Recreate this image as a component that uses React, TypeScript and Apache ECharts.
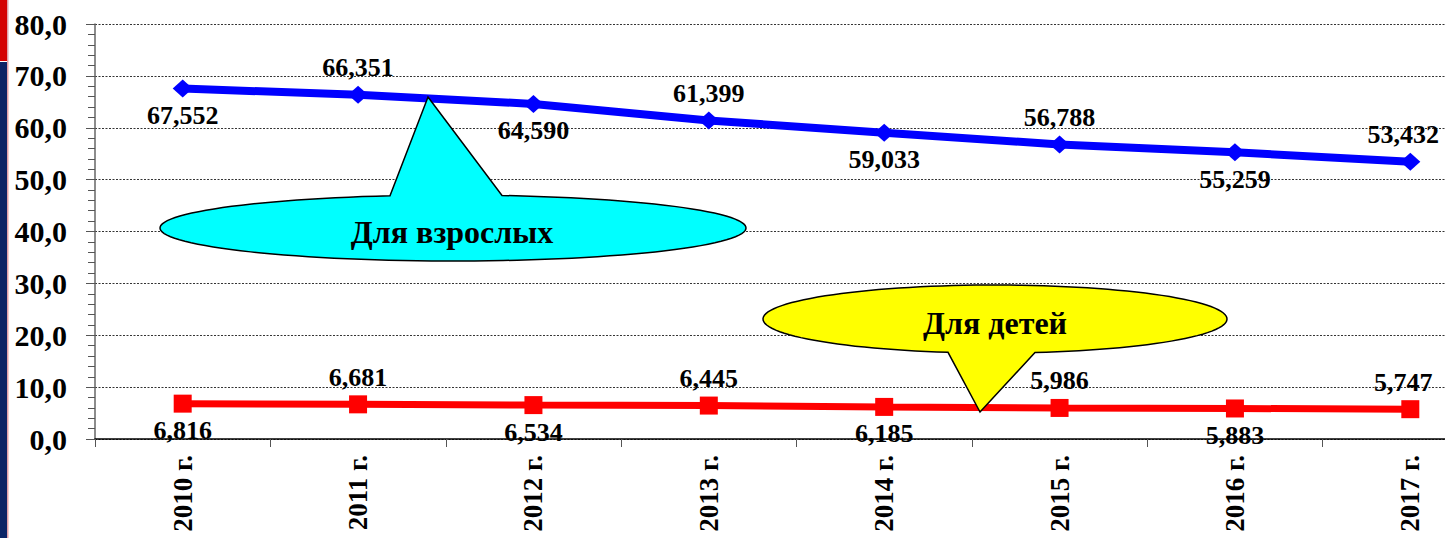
import React, { useEffect, useRef } from "react";
import * as echarts from "echarts";

const years = ["2010 г.", "2011 г.", "2012 г.", "2013 г.", "2014 г.", "2015 г.", "2016 г.", "2017 г."];
const adults = [67.552, 66.351, 64.59, 61.399, 59.033, 56.788, 55.259, 53.432];
const children = [6.816, 6.681, 6.534, 6.445, 6.185, 5.986, 5.883, 5.747];
const labelPos = ["bottom", "top", "bottom", "top", "bottom", "top", "bottom", "top"];
const adultCallout = "Для взрослых";
const childCallout = "Для детей";

const FONT = "'Liberation Serif', 'Times New Roman', serif";

function calloutPoints(cx: number, cy: number, rx: number, ry: number, bx1: number, bx2: number, ax: number, ay: number, top: boolean) {
  const pts: number[][] = [];
  const t1 = top ? -Math.acos((bx2 - cx) / rx) : Math.acos((bx1 - cx) / rx);
  const t2 = top ? -Math.acos((bx1 - cx) / rx) + 2 * Math.PI : Math.acos((bx2 - cx) / rx) + 2 * Math.PI;
  pts.push([ax, ay]);
  const n = 120;
  for (let i = 0; i <= n; i++) {
    const t = t1 + ((t2 - t1) * i) / n;
    pts.push([cx + rx * Math.cos(t), cy + ry * Math.sin(t)]);
  }
  return pts;
}

export default function App() {
  const ref = useRef<HTMLDivElement>(null);
  useEffect(() => {
    if (!ref.current) return;
    const chart = echarts.init(ref.current, null, { renderer: "svg" });
    const fmt = (v: number) => v.toFixed(3).replace(".", ",");
    const mkData = (arr: number[]) =>
      arr.map((v, i) => ({
        value: v,
        label: { position: labelPos[i], offset: i === arr.length - 1 ? [-7, 0] : [0, 0] },
      }));
    const labelStyle = {
      show: true,
      fontFamily: FONT,
      fontWeight: "bold",
      fontSize: 26,
      color: "#000",
      distance: 5,
      formatter: (p: any) => fmt(p.value),
    };
    const calloutText = {
      fontFamily: FONT,
      fontWeight: "bold",
      fontSize: 32,
      fill: "#000",
      align: "center",
      verticalAlign: "middle",
    };
    chart.setOption({
      animation: false,
      backgroundColor: "#fff",
      grid: { left: 95, right: 0, top: 24, bottom: 99, containLabel: false },
      xAxis: {
        type: "category",
        data: years,
        boundaryGap: true,
        axisLine: { lineStyle: { color: "#000", width: 1.5 } },
        axisTick: { show: true, interval: 0, length: 8, lineStyle: { color: "#555" } },
        axisLabel: {
          interval: 0,
          rotate: 90,
          margin: 16,
          fontFamily: FONT,
          fontWeight: "bold",
          fontSize: 27,
          color: "#000",
        },
        splitLine: { show: false },
      },
      yAxis: {
        type: "value",
        min: 0,
        max: 80,
        interval: 10,
        axisLine: { show: true, lineStyle: { color: "#666", width: 1.5 } },
        axisTick: { show: true, length: 9, lineStyle: { color: "#555" } },
        minorTick: { show: true, splitNumber: 5, length: 7, lineStyle: { color: "#555" } },
        axisLabel: {
          margin: 28,
          fontFamily: FONT,
          fontWeight: "bold",
          fontSize: 30,
          color: "#000",
          formatter: (v: number) => v.toFixed(1).replace(".", ","),
        },
        splitLine: { show: true, lineStyle: { color: "#333", type: [2, 1.5], width: 1 } },
      },
      series: [
        {
          name: "Для взрослых",
          type: "line",
          data: mkData(adults),
          symbol: "diamond",
          symbolSize: [20, 18],
          lineStyle: { color: "#0000FF", width: 8 },
          itemStyle: { color: "#0000FF" },
          label: labelStyle,
          z: 3,
        },
        {
          name: "Для детей",
          type: "line",
          data: mkData(children),
          symbol: "rect",
          symbolSize: 18,
          lineStyle: { color: "#FF0000", width: 7 },
          itemStyle: { color: "#FF0000" },
          label: labelStyle,
          z: 3,
        },
      ],
      graphic: [
        { type: "rect", shape: { x: 0, y: 0, width: 7, height: 61 }, style: { fill: "#D40000" }, z: 100 },
        { type: "rect", shape: { x: 0, y: 62, width: 7, height: 476 }, style: { fill: "#0B2466" }, z: 100 },
        { type: "rect", shape: { x: 7, y: 0, width: 1.5, height: 538 }, style: { fill: "#E0A0A8" }, z: 100 },
        {
          type: "polygon",
          shape: { points: calloutPoints(453, 228, 293, 33, 390, 502, 428, 97, true) },
          style: { fill: "#00FFFF", stroke: "#000", lineWidth: 1.5 },
          z: 100,
        },
        { type: "text", x: 452, y: 232, style: { ...calloutText, text: adultCallout }, z: 101 },
        {
          type: "polygon",
          shape: { points: calloutPoints(995, 319, 232, 34, 948, 1035, 980, 412, false) },
          style: { fill: "#FFFF00", stroke: "#000", lineWidth: 1.5 },
          z: 100,
        },
        { type: "text", x: 995, y: 323, style: { ...calloutText, text: childCallout }, z: 101 },
      ],
    });
    return () => chart.dispose();
  }, []);
  return (
    <div style={{ position: "absolute", left: 0, top: 0, width: 1445, height: 538, overflow: "hidden" }}>
      <div ref={ref} style={{ width: 1498, height: 538 }} />
    </div>
  );
}
